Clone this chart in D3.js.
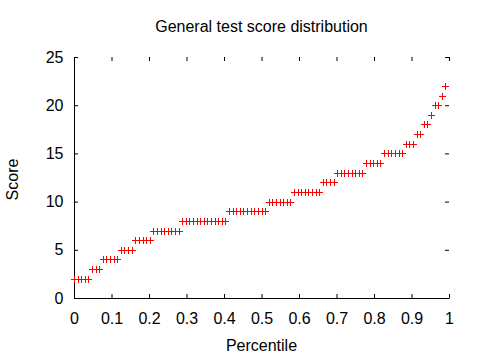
<!DOCTYPE html>
<html><head><meta charset="utf-8">
<script src="https://cdn.jsdelivr.net/npm/d3@7"></script>
<style>html,body{margin:0;padding:0;background:#fff;} svg{display:block;}</style>
</head><body>
<svg id="chart" width="480" height="360"></svg>
<script>
const chartTitle = "General test score distribution";
const xLabel = "Percentile";
const yLabel = "Score";
const xTicks = [0, 0.1, 0.2, 0.3, 0.4, 0.5, 0.6, 0.7, 0.8, 0.9, 1];
const yTicks = [0, 5, 10, 15, 20, 25];
// sorted scores (one per plotted point)
const scores = [
  2,2,2,2,2,
  3,3,3,
  4,4,4,4,4,
  5,5,5,5,
  6,6,6,6,6,
  7,7,7,7,7,7,7,7,
  8,8,8,8,8,8,8,8,8,8,8,8,8,
  9,9,9,9,9,9,9,9,9,9,9,
  10,10,10,10,10,10,10,
  11,11,11,11,11,11,11,11,
  12,12,12,12,
  13,13,13,13,13,13,13,13,
  14,14,14,14,14,
  15,15,15,15,15,15,
  16,16,16,
  17,17,
  18,18,
  19,
  20,20,
  21,
  22
];
const percentiles = scores.map((s, i) => i / scores.length);

const W = 480, H = 360;
const m = {left: 74, right: 31, top: 57, bottom: 62};
const svg = d3.select("#chart");
const FONT = "'Liberation Sans', Arial, sans-serif";

const x = d3.scaleLinear().domain([0, 1]).range([m.left, W - m.right]);
const y = d3.scaleLinear().domain([0, 25]).range([H - m.bottom, m.top]);

function styleAxis(g) {
  g.attr("font-family", FONT).attr("font-size", 16);
  g.selectAll("text").attr("fill", "#000");
  g.selectAll("line").attr("stroke", "#000");
  g.selectAll("path.domain").attr("stroke", "#000");
}

svg.append("g")
  .attr("transform", `translate(0,${H - m.bottom})`)
  .call(d3.axisBottom(x).tickValues(xTicks).tickSize(-4).tickSizeOuter(0)
        .tickPadding(14.5).tickFormat(d => String(d)))
  .call(styleAxis);

svg.append("g")
  .attr("transform", `translate(${m.left},0)`)
  .call(d3.axisLeft(y).tickValues(yTicks).tickSize(-4).tickSizeOuter(0)
        .tickPadding(10.5).tickFormat(d => String(d)))
  .call(styleAxis);

svg.append("g")
  .attr("transform", `translate(0,${m.top})`)
  .call(d3.axisTop(x).tickValues(xTicks).tickSize(-4).tickSizeOuter(0).tickFormat(""))
  .call(styleAxis)
  .call(g => g.select(".domain").remove());

svg.append("g")
  .attr("transform", `translate(${W - m.right},0)`)
  .call(d3.axisRight(y).tickValues(yTicks).tickSize(-4).tickSizeOuter(0).tickFormat(""))
  .call(styleAxis)
  .call(g => g.select(".domain").remove());

// points
svg.append("g")
  .selectAll("path")
  .data(scores)
  .join("path")
  .attr("transform", (d, i) => `translate(${Math.round(x(percentiles[i])) + 0.5},${Math.round(y(d)) + 0.5})`)
  .attr("d", "M-3.5,0H3.5M0,-3.5V3.5")
  .attr("stroke", "#ff0000")
  .attr("stroke-width", 1)
  .attr("fill", "none");

svg.append("text")
  .attr("x", (m.left + W - m.right) / 2).attr("y", 32)
  .attr("text-anchor", "middle")
  .attr("font-family", FONT).attr("font-size", 16).attr("fill", "#000")
  .text(chartTitle);

svg.append("text")
  .attr("x", (m.left + W - m.right) / 2).attr("y", 351)
  .attr("text-anchor", "middle")
  .attr("font-family", FONT).attr("font-size", 16).attr("fill", "#000")
  .text(xLabel);

svg.append("text")
  .attr("transform", `translate(18,${(m.top + H - m.bottom) / 2 + 2}) rotate(-90)`)
  .attr("text-anchor", "middle")
  .attr("font-family", FONT).attr("font-size", 16).attr("fill", "#000")
  .text(yLabel);
</script>
</body></html>
